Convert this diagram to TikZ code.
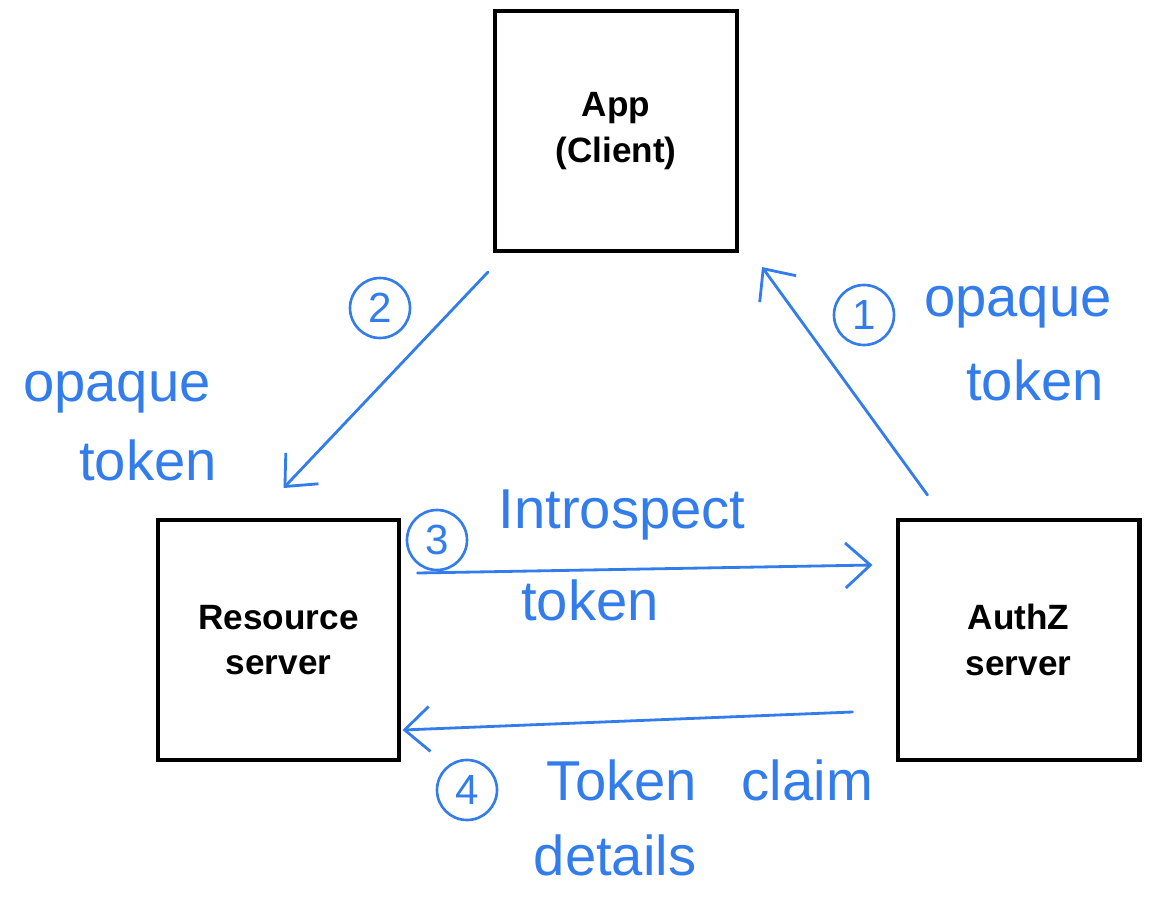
\documentclass[tikz,border=0pt]{standalone}
\usepackage{fontspec}
\setmainfont{Liberation Sans}
\usetikzlibrary{arrows.meta, calc}
\definecolor{inkblue}{RGB}{50,125,235}
\tikzset{
  box/.style={draw, line width=2.3pt, minimum width=4.84cm, minimum height=4.8cm,
    align=center, font=\fontsize{20}{26}\selectfont\bfseries},
  ink/.style={inkblue, line width=1.6pt, line cap=round,
    -{Straight Barb[length=5mm, width=9mm, line width=1.6pt]}},
  hand/.style={inkblue, font=\fontsize{32}{36}\selectfont},
  stepnum/.style={circle, draw=inkblue, line width=1.5pt, text=inkblue,
    minimum size=1.2cm, inner sep=0pt, font=\fontsize{24}{24}\selectfont}
}
\begin{document}
\begin{tikzpicture}[x=0.02cm, y=-0.02cm]
  \useasboundingbox (0,0) rectangle (1161,914);
  % the three parties
  \node[box] (app) at (616,131) {App\\(Client)};
  \node[box] (res) at (278.5,640) {Resource\\server};
  \node[box] (authz) at (1018.5,640) {AuthZ\\server};

  % 1: token handed to the app
  \draw[ink] ($(authz.north west)+(32,-23)$) -- ($(app.south east)+(23,14)$);
  \node[stepnum] (n1) at (864,315) {1};
  \node[hand] (tok1a) at (1018,307) {opaque};
  \node[hand] (tok1b) at (1035,380) {token};

  % 2: app calls resource server
  \draw[ink] ($(app.south west)+(-5,19)$) -- ($(res.north)+(5,-30)$);
  \node[stepnum] (n2) at (380,308) {2};
  \node[hand] (tok2a) at (117,392) {opaque};
  \node[hand] (tok2b) at (148,460) {token};

  % 3: introspection request
  \draw[ink] ($(res.east)+(16,-67)$) -- ($(authz.west)+(-23,-75)$);
  \node[stepnum] (n3) at (437,540) {3};
  \node[hand] (intro) at (622,515) {Introspect};
  \node[hand] (tok3) at (590,600) {token};

  % 4: claims come back
  \draw[ink] ($(authz.west)+(-43,72)$) -- ($(res.east)+(1,90)$);
  \node[stepnum] (n4) at (467,790) {4};
  \node[hand] (claim) at (710,780) {Token\hspace{0.8em}claim};
  \node[hand] (details) at (615,855) {details};
\end{tikzpicture}
\end{document}
